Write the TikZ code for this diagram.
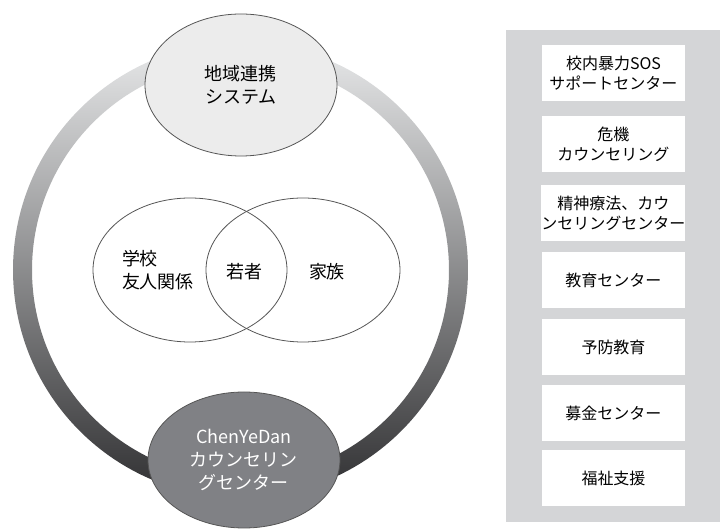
\documentclass[tikz,border=0pt]{standalone}
\usepackage{fontspec}
\setmainfont{Noto Sans CJK JP}
\usetikzlibrary{shapes.geometric}
\definecolor{ringtop}{HTML}{E8E9EA}
\definecolor{ringmid}{HTML}{AEAFB2}
\definecolor{ringbot}{HTML}{2F2F31}
\definecolor{lightfill}{HTML}{ECECEC}
\definecolor{darkfill}{HTML}{808185}
\definecolor{panelgray}{HTML}{D4D5D7}
\definecolor{edgegray}{HTML}{555555}
\tikzset{
  hub/.style={ellipse, draw=edgegray, line width=0.4pt, inner sep=0pt,
    minimum width=96pt, align=center, font=\fontsize{9}{11.5}\selectfont},
  venn/.style={ellipse, draw=edgegray, line width=0.4pt, inner sep=0pt,
    minimum width=97pt, minimum height=72pt},
  label/.style={font=\fontsize{9}{11.5}\selectfont, align=left},
  service/.style={fill=white, minimum width=71.5pt, minimum height=28pt,
    inner sep=0pt, align=center, font=\fontsize{8}{10}\selectfont}
}
\begin{document}
\begin{tikzpicture}[x=0.5pt,y=-0.5pt]
    \useasboundingbox (0,0) rectangle (720,529);
    % ring
    \shade[top color=ringtop, middle color=ringmid, bottom color=ringbot, even odd rule]
        (240.5,270) circle (227.5) (240.5,270) circle (208.5);
    % hubs on the ring
    \node[hub, fill=lightfill, minimum height=71pt] (region) at (241,85) {地域連携\\システム};
    \node[hub, fill=darkfill, minimum height=68pt, text=white] (center) at (244,460)
        {ChenYeDan\\カウンセリン\\グセンター};
    % venn
    \node[venn] (school) at (190,270) {};
    \node[venn] (family) at (303,270) {};
    \node[label] (schooltxt) at (158,270) {学校\\友人関係};
    \node[label] (youth) at (245,272) {若者};
    \node[label] (familytxt) at (327,272) {家族};
    % services
    \fill[panelgray] (506,30) rectangle (720,522);
    \node[service] (sos) at (613.5,73) {校内暴力SOS\\サポートセンター};
    \node[service] (crisis) at (613.5,144) {危機\\カウンセリング};
    \node[service] (therapy) at (613.5,213) {精神療法、カウ\\ンセリングセンター};
    \node[service] (edu) at (613.5,280) {教育センター};
    \node[service] (prevent) at (613.5,347) {予防教育};
    \node[service] (fund) at (613.5,413) {募金センター};
    \node[service] (welfare) at (613.5,478) {福祉支援};
\end{tikzpicture}
\end{document}
